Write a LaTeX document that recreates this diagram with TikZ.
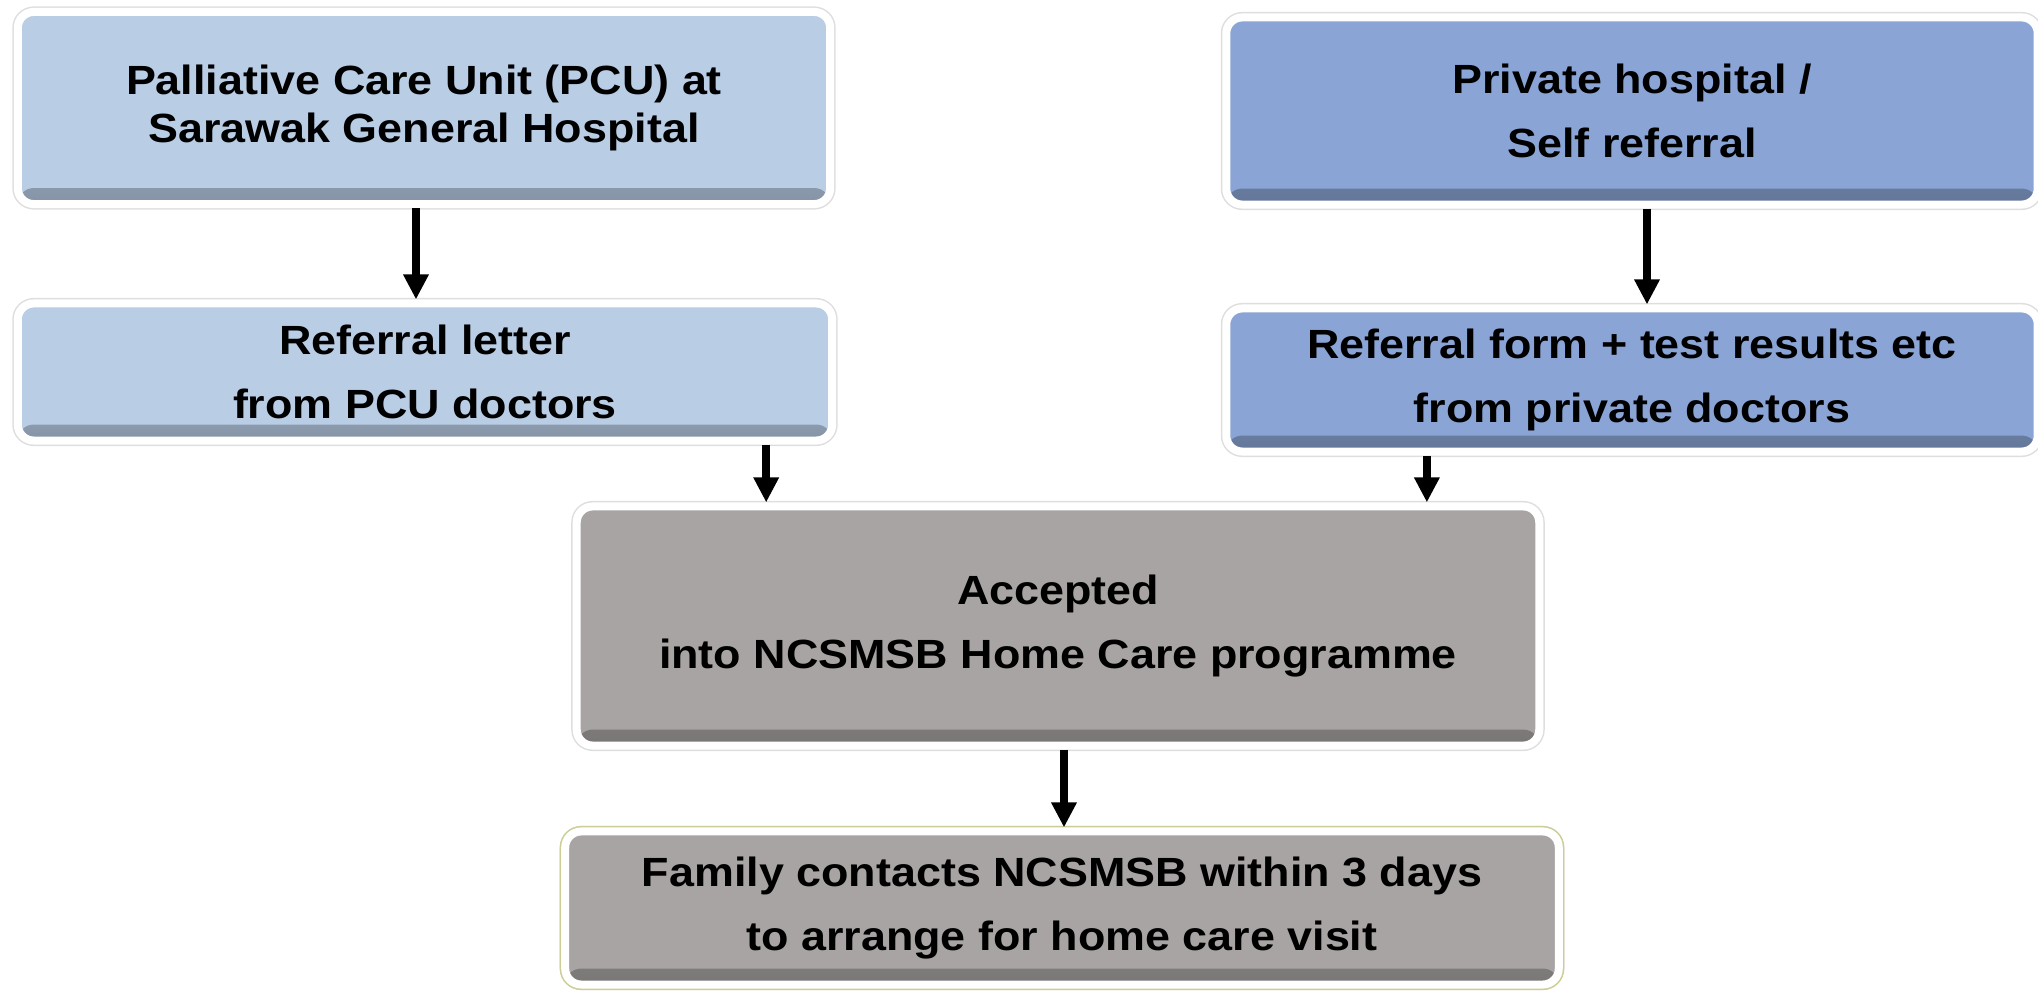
\documentclass[tikz,border=0pt]{standalone}
\usepackage{fontspec}
\setmainfont{Liberation Sans}[FakeStretch=1.1]
\usetikzlibrary{arrows.meta,positioning,calc}

\definecolor{pcublue}{RGB}{185,205,229}
\definecolor{privblue}{RGB}{138,165,213}
\definecolor{homegray}{RGB}{168,164,163}
\definecolor{famrim}{RGB}{205,205,150}

\tikzset{
  flowbox/.style={rectangle, rounded corners=0.16cm, fill=#1, draw=white, line width=0.08cm,
    preaction={draw=black!13, line width=0.11cm},
    path picture={\fill[top color=#1, bottom color=#1!72!black]
      ([yshift=0.16cm]path picture bounding box.south west) rectangle (path picture bounding box.south east);},
    align=center, inner sep=0pt, font=\bfseries\fontsize{11.6pt}{18.2pt}\selectfont},
  flowarr/.style={-{Triangle[width=0.24cm,length=0.25cm]}, line width=0.08cm, black}
}

\begin{document}
\begin{tikzpicture}[x=0.01cm, y=-0.01cm]
    \useasboundingbox (0,0) rectangle (2038,991);

    % Left column: PCU
    \node[flowbox=pcublue, minimum width=8.12cm, minimum height=1.92cm,
          font=\bfseries\fontsize{11.6pt}{13.4pt}\selectfont] (pcu) at (424,108)
      {Palliative Care Unit (PCU) at\\Sarawak General Hospital};
    \node[flowbox=pcublue, minimum width=8.14cm, minimum height=1.37cm] (letter) at (425,372)
      {Referral letter\\from PCU doctors};

    % Right column: private
    \node[flowbox=privblue, minimum width=8.11cm, minimum height=1.87cm] (priv) at (1632,111)
      {Private hospital /\\Self referral};
    \node[flowbox=privblue, minimum width=8.11cm, minimum height=1.43cm] (form) at (1632,380)
      {Referral form + test results etc\\from private doctors};

    % Middle: acceptance and contact
    \node[flowbox=homegray, minimum width=9.62cm, minimum height=2.39cm] (acc) at (1058,626)
      {Accepted\\into NCSMSB Home Care programme};
    \node[flowbox=homegray, preaction={draw=famrim, line width=0.11cm},
          minimum width=9.93cm, minimum height=1.53cm] (fam) at (1062,908)
      {Family contacts NCSMSB within 3 days\\to arrange for home care visit};

    % Arrows
    \draw[flowarr] ([xshift=-0.08cm]pcu.south) -- ([xshift=-0.08cm]pcu.south |- letter.north);
    \draw[flowarr] ([xshift=0.15cm]priv.south) -- ([xshift=0.15cm]priv.south |- form.north);
    \draw[flowarr] ([xshift=3.41cm]letter.south) -- ([xshift=3.41cm]letter.south |- acc.north);
    \draw[flowarr] ([xshift=-2.05cm]form.south) -- ([xshift=-2.05cm]form.south |- acc.north);
    \draw[flowarr] ([xshift=0.06cm]acc.south) -- ([xshift=0.06cm]acc.south |- fam.north);
\end{tikzpicture}
\end{document}
